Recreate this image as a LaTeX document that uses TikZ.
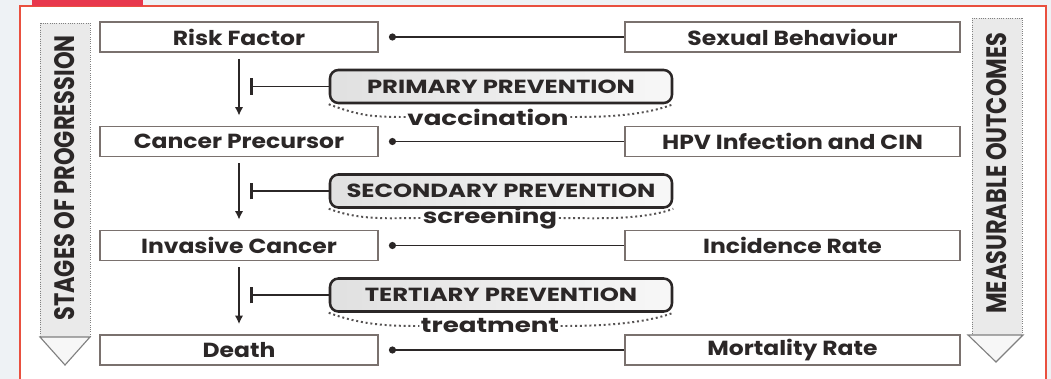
\documentclass[tikz,border=0pt]{standalone}
\usepackage{fontspec}
\setmainfont{Poppins}
\newfontfamily\bandfont[FakeStretch=0.8]{Poppins}
\newfontfamily\boxfont[FakeStretch=1.15]{Poppins}
\newfontfamily\widefont[FakeStretch=1.28]{Poppins}
\usetikzlibrary{arrows.meta,positioning,calc}
\definecolor{frame}{HTML}{E9503F}
\definecolor{tab}{HTML}{E8384D}
\definecolor{page}{HTML}{EEF2F5}
\definecolor{ink}{HTML}{2B2727}
\definecolor{edge}{HTML}{7A716E}
\definecolor{band}{HTML}{EAEAEA}
\tikzset{stage/.style={draw=edge,fill=white,line width=1.3pt,minimum width=6.95cm,minimum height=0.75cm,inner sep=0pt,font=\boxfont\bfseries\fontsize{14.5}{16}\selectfont,text=ink},
 outcome/.style={stage,minimum width=8.375cm},
 prevent/.style={draw=ink,line width=1.8pt,rounded corners=6pt,left color=gray!24,right color=gray!6,minimum width=8.55cm,minimum height=0.825cm,inner sep=0pt,font=\widefont\bfseries\fontsize{13.5}{15}\selectfont,text=ink},
 means/.style={font=\widefont\bfseries\fontsize{14.5}{16}\selectfont,text=ink,inner sep=1pt},
 assoc/.style={{Circle[length=5pt]}-,line width=1.2pt,draw=ink,shorten <=0.25cm},
 progress/.style={-{Latex[length=6pt,width=6pt]},line width=1.3pt,draw=ink,shorten <=0.15cm,shorten >=0.25cm},
 block/.style={-{Bar[width=12pt,line width=2.4pt]},line width=1.3pt,draw=ink},
 brace/.style={dotted,line width=1.4pt,draw=ink!80},
 bandbox/.style={draw=gray,densely dotted,fill=band,line width=0.6pt},
 bandtip/.style={draw=gray,fill=gray!6,line width=0.8pt},
 bandtext/.style={rotate=90,font=\bandfont\bfseries\fontsize{20}{22}\selectfont,text=ink}}

\begin{document}
\begin{tikzpicture}
\useasboundingbox (0,0) rectangle (26.275,-9.475);
\fill[page] (0,0) rectangle (26.275,-9.475);
\draw[frame,fill=white,line width=1.4pt] (0.5,-0.15) rectangle (26.15,-9.8);
\fill[tab] (0.8,0) rectangle (3.575,-0.14);

% side bands
\draw[bandbox] (1,-0.575) rectangle (2.25,-8.425);
\draw[bandtip] (1,-8.425) -- (2.25,-8.425) -- (1.625,-9.125) -- cycle;
\node[bandtext] (stages) at (1.625,-4.45) {STAGES OF PROGRESSION};
\draw[bandbox] (24.3,-0.45) rectangle (25.55,-8.375);
\draw[bandtip] (24.2,-8.375) -- (25.575,-8.375) -- (24.9,-9.05) -- cycle;
\node[bandtext] (outcomes) at (24.925,-4.33) {MEASURABLE OUTCOMES};

% stages and outcomes
\node[stage] (risk) at (5.975,-0.925) {Risk Factor};
\node[stage] (precursor) at (5.975,-3.5375) {Cancer Precursor};
\node[stage] (invasive) at (5.975,-6.1375) {Invasive Cancer};
\node[stage] (death) at (5.975,-8.75) {Death};
\node[outcome] (sexual) at (19.8125,-0.925) {Sexual Behaviour};
\node[outcome] (hpv) at (19.8125,-3.5375) {HPV Infection and CIN};
\node[outcome] (incidence) at (19.8125,-6.1375) {Incidence Rate};
\node[outcome] (mortality) at (19.8125,-8.75) {Mortality Rate};

% prevention levels
\node[prevent] (primary) at (12.525,-2.1625) {PRIMARY PREVENTION};
\node[means] (vacc) at (12.2,-2.925) {vaccination};
\node[prevent] (secondary) at (12.525,-4.775) {SECONDARY PREVENTION};
\node[means] (screen) at (12.25,-5.45) {screening};
\node[prevent] (tertiary) at (12.525,-7.375) {TERTIARY PREVENTION};
\node[means] (treat) at (12.25,-8.15) {treatment};
\coordinate (stop1) at (6.25,-2.1625);
\coordinate (stop2) at (6.25,-4.775);
\coordinate (stop3) at (6.25,-7.375);

\draw[assoc] (risk) -- (sexual);
\draw[assoc] (precursor) -- (hpv);
\draw[assoc] (invasive) -- (incidence);
\draw[assoc] (death) -- (mortality);

\draw[progress] (risk) -- (precursor);
\draw[progress] (precursor) -- (invasive);
\draw[progress] (invasive) -- (death);

\draw[block] (primary) -- (stop1);
\draw[block] (secondary) -- (stop2);
\draw[block] (tertiary) -- (stop3);

\draw[brace] (primary.south west) .. controls +(0.8,-0.3) and +(-0.8,0) .. (vacc.west);
\draw[brace] (vacc.east) .. controls +(0.8,0) and +(-0.8,-0.3) .. (primary.south east);
\draw[brace] (secondary.south west) .. controls +(0.8,-0.3) and +(-0.8,0) .. (screen.west);
\draw[brace] (screen.east) .. controls +(0.8,0) and +(-0.8,-0.3) .. (secondary.south east);
\draw[brace] (tertiary.south west) .. controls +(0.8,-0.3) and +(-0.8,0) .. (treat.west);
\draw[brace] (treat.east) .. controls +(0.8,0) and +(-0.8,-0.3) .. (tertiary.south east);
\end{tikzpicture}
\end{document}
